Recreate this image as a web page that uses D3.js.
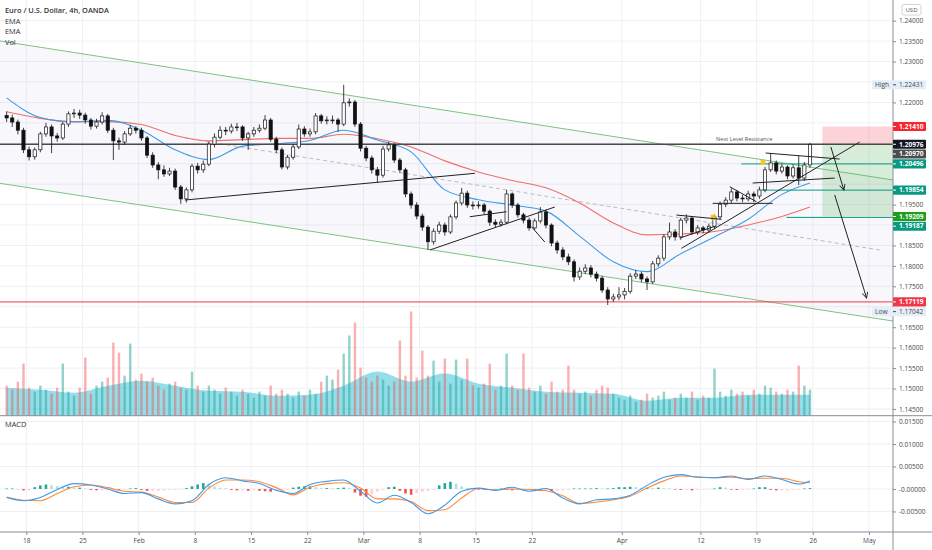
<!DOCTYPE html>
<html>
<head>
<meta charset="utf-8">
<script src="https://cdn.jsdelivr.net/npm/d3@7"></script>
<style>
  body { margin: 0; background: #fff; }
  text { font-family: "Open Sans", sans-serif; }
</style>
</head>
<body>
<div id="chart"></div>
<script>
// EUR/USD 4h (OANDA) - candles shown as 12h bars, day 0 = Mon Jan 18
const firstDay = -2;          // Thu Jan 14
const firstOpen = 1.2168;

const closes = [
  1.2162,1.2152,1.2132,1.2084,1.2067,1.2084,1.2123,1.2140,1.2118,1.2113,
  1.2147,1.2172,1.2174,1.2169,1.2157,1.2142,1.2152,1.2167,1.2132,1.2106,
  1.2103,1.2123,1.2137,1.2132,1.2113,1.2071,1.2047,1.2035,1.2025,1.2032,
  1.1993,1.1964,1.1986,1.2044,1.2035,1.2049,1.2098,1.2115,1.2132,1.2130,
  1.2140,1.2140,1.2113,1.2123,1.2132,1.2137,1.2157,1.2110,1.2084,1.2042,
  1.2066,1.2091,1.2135,1.2123,1.2128,1.2167,1.2155,1.2157,1.2157,1.2147,
  1.2199,1.2201,1.2147,1.2088,1.2064,1.2035,1.2022,1.2086,1.2096,1.2059,
  1.2035,1.1976,1.1949,1.1922,1.1895,1.1859,1.1885,1.1900,1.1883,1.1920,
  1.1954,1.1978,1.1949,1.1947,1.1949,1.1934,1.1907,1.1902,1.1907,1.1976,
  1.1949,1.1925,1.1912,1.1893,1.1910,1.1932,1.1900,1.1856,1.1839,1.1822,
  1.1810,1.1773,1.1787,1.1795,1.1780,1.1770,1.1741,1.1719,1.1724,1.1729,
  1.1738,1.1775,1.1780,1.1768,1.1761,1.1805,1.1819,1.1871,1.1883,1.1871,
  1.1912,1.1917,1.1883,1.1893,1.1888,1.1897,1.1920,1.1951,1.1961,1.1981,
  1.1966,1.1964,1.1976,1.1971,1.1986,1.2035,1.2052,1.2032,1.2042,1.2020,
  1.2040,1.2015,1.2047,1.2097
];
const highs = [
  1.2178,1.2170,1.2158,1.2138,1.2092,1.2090,1.2128,1.2150,1.2146,1.2125,
  1.2152,1.2178,1.2184,1.2182,1.2175,1.2162,1.2160,1.2176,1.2172,1.2138,
  1.2114,1.2130,1.2145,1.2142,1.2138,1.2118,1.2078,1.2054,1.2046,1.2040,
  1.2038,1.1998,1.1992,1.2050,1.2052,1.2058,1.2104,1.2124,1.2142,1.2140,
  1.2148,1.2150,1.2144,1.2128,1.2140,1.2146,1.2169,1.2162,1.2116,1.2090,
  1.2072,1.2098,1.2146,1.2142,1.2136,1.2174,1.2172,1.2166,1.2168,1.2162,
  1.22431,1.2210,1.2206,1.2152,1.2094,1.2070,1.2042,1.2094,1.2104,1.2100,
  1.2064,1.2040,1.1982,1.1956,1.1928,1.1900,1.1892,1.1908,1.1906,1.1926,
  1.1960,1.1991,1.1984,1.1958,1.1958,1.1954,1.1938,1.1914,1.1914,1.1986,
  1.1980,1.1954,1.1930,1.1918,1.1916,1.1944,1.1938,1.1904,1.1862,1.1846,
  1.1830,1.1816,1.1796,1.1804,1.1802,1.1786,1.1776,1.1748,1.1732,1.1748,
  1.1746,1.1782,1.1790,1.1786,1.1774,1.1812,1.1826,1.1878,1.1906,1.1890,
  1.1918,1.1926,1.1922,1.1900,1.1898,1.1904,1.1926,1.1958,1.1968,1.1990,
  1.1986,1.1974,1.1984,1.1982,1.1994,1.2042,1.2076,1.2058,1.2050,1.2046,
  1.2048,1.2071,1.2054,1.2101
];
const lows = [
  1.2152,1.2140,1.2122,1.2076,1.2058,1.2060,1.2078,1.2116,1.2076,1.2104,
  1.2108,1.2140,1.2162,1.2160,1.2148,1.2134,1.2136,1.2146,1.2125,1.2059,
  1.2084,1.2096,1.2118,1.2124,1.2106,1.2064,1.2040,1.2012,1.2018,1.2020,
  1.1986,1.1952,1.1955,1.1980,1.2026,1.2028,1.2044,1.2090,1.2110,1.2120,
  1.2124,1.2130,1.2106,1.2084,1.2116,1.2126,1.2132,1.2104,1.2076,1.2036,
  1.2036,1.2060,1.2086,1.2116,1.2116,1.2122,1.2148,1.2146,1.2148,1.2128,
  1.2142,1.2190,1.2140,1.2080,1.2056,1.2026,1.2003,1.2016,1.2080,1.2052,
  1.2028,1.1968,1.1940,1.1914,1.1886,1.1839,1.1852,1.1878,1.1874,1.1878,
  1.1914,1.1948,1.1942,1.1938,1.1940,1.1926,1.1898,1.1894,1.1896,1.1902,
  1.1942,1.1918,1.1904,1.1886,1.1888,1.1904,1.1892,1.1848,1.1830,1.1814,
  1.1802,1.1762,1.1766,1.1780,1.1772,1.1762,1.1734,1.17042,1.1712,1.1716,
  1.1718,1.1732,1.1768,1.1760,1.1741,1.1756,1.1798,1.1812,1.1864,1.1862,
  1.1864,1.1904,1.1876,1.1876,1.1880,1.1882,1.1890,1.1914,1.1944,1.1954,
  1.1958,1.1956,1.1958,1.1956,1.1964,1.1980,1.2030,1.2024,1.2026,1.2012,
  1.2014,1.1998,1.2008,1.2040
];
const volumes = [
  30,26,34,52,28,24,30,26,22,28,
  52,24,20,28,58,22,30,34,38,73,
  63,40,72,36,42,34,38,30,26,32,
  34,28,26,44,30,24,30,26,22,28,
  24,20,26,22,18,24,20,30,22,26,
  22,18,24,20,26,22,34,40,36,46,
  62,80,93,48,38,34,40,36,30,34,
  75,40,104,38,65,40,55,34,57,32,
  56,36,57,30,28,32,52,26,30,62,
  30,26,62,28,24,30,22,34,24,26,
  50,26,22,24,20,26,30,28,22,18,
  16,20,14,16,22,18,20,24,16,18,
  22,18,24,16,20,18,47,24,20,26,
  22,24,20,26,22,30,28,24,22,26,
  24,50,30,26
];

// indicator lines read at every 6th bar
const sampleBars = [0,6,12,18,24,30,36,42,48,54,60,66,72,78,84,90,96,102,108,114,120,126,132,138,143];
const emaFast = [1.2211,1.2163,1.2152,1.2156,1.2132,1.2084,1.2060,1.2093,1.2099,1.2107,1.2132,1.2108,1.2079,
  1.1986,1.1962,1.1949,1.1934,1.1873,1.1810,1.1786,1.1830,1.1871,1.1914,1.1975,1.2003];
const emaSlow = [1.2177,1.2161,1.2153,1.2153,1.2146,1.2119,1.2106,1.2109,1.2112,1.2112,1.2122,1.2111,1.2091,
  1.2057,1.2030,1.2009,1.1991,1.1954,1.1905,1.1876,1.1878,1.1884,1.1900,1.1921,1.1944];
const volMA = [28,26,23,30,35,30,25,24,20,21,30,44,34,42,32,28,24,23,22,15,18,18,21,21,21];

// MACD read at every 3rd bar
const macdBars = [0,3,6,9,12,15,18,21,24,27,30,33,36,39,42,45,48,51,54,57,60,63,66,69,72,75,78,81,84,87,90,
  93,96,99,102,105,108,111,114,117,120,123,126,129,132,135,138,141,143];
const macdLine = [-0.0019,-0.0026,-0.0019,-0.0001,0.0012,0.0009,0.0000,-0.0010,-0.0008,-0.0022,-0.0033,-0.0026,
  0.0010,0.0025,0.0018,0.0012,-0.0003,-0.0010,0.0010,0.0017,0.0020,-0.0005,-0.0031,-0.0014,-0.0030,-0.0055,
  -0.0036,-0.0005,0.0002,-0.0003,0.0004,-0.0005,0.0001,-0.0020,-0.0033,-0.0024,-0.0022,-0.0014,0.0008,0.0026,
  0.0032,0.0026,0.0025,0.0029,0.0021,0.0029,0.0021,0.0011,0.0018];
const signalLine = [-0.0018,-0.0025,-0.0026,-0.0010,0.0005,0.0009,0.0003,-0.0005,-0.0007,-0.0018,-0.0030,-0.0030,
  0.0002,0.0020,0.0020,0.0016,0.0003,-0.0013,0.0004,0.0012,0.0014,0.0002,-0.0022,-0.0022,-0.0028,-0.0048,
  -0.0046,-0.0020,0.0001,-0.0002,0.0000,-0.0001,-0.0004,-0.0015,-0.0032,-0.0029,-0.0024,-0.0016,0.0002,0.0018,
  0.0029,0.0027,0.0025,0.0026,0.0023,0.0024,0.0024,0.0016,0.0014];
const macdHist = [
  0.0001,0.0001,0.0000,-0.0003,-0.0003,0.0004,0.0008,0.0010,0.0008,0.0006,
  0.0005,0.0005,0.0003,0.0003,0.0001,-0.0002,-0.0003,-0.0003,-0.0002,-0.0001,
  -0.0002,-0.0001,0.0001,0.0002,-0.0002,-0.0004,-0.0004,-0.0004,-0.0003,-0.0002,
  -0.0002,-0.0001,0.0002,0.0006,0.0010,0.0013,0.0011,0.0005,0.0003,0.0002,
  -0.0002,-0.0003,-0.0003,-0.0004,-0.0003,-0.0004,-0.0005,-0.0006,-0.0005,-0.0004,
  -0.0002,0.0003,0.0005,0.0006,0.0006,0.0004,0.0002,0.0002,0.0001,0.0002,
  0.0003,0.0002,-0.0008,-0.0015,-0.0017,-0.0012,-0.0006,-0.0002,0.0004,0.0005,
  -0.0004,-0.0010,-0.0013,-0.0009,-0.0006,-0.0004,-0.0002,0.0008,0.0013,0.0016,
  0.0012,0.0006,0.0002,0.0001,-0.0001,-0.0002,-0.0002,-0.0001,0.0001,-0.0002,
  -0.0003,-0.0003,-0.0002,-0.0001,-0.0003,-0.0004,-0.0004,-0.0005,-0.0004,-0.0003,
  -0.0002,0.0001,0.0001,0.0001,0.0001,0.0002,0.0001,0.0001,0.0002,0.0004,
  0.0004,0.0005,0.0004,0.0003,0.0003,0.0002,0.0003,0.0002,0.0001,-0.0001,
  -0.0002,-0.0002,-0.0003,-0.0002,-0.0001,-0.0001,0.0001,0.0004,0.0003,-0.0001,
  -0.0002,-0.0002,-0.0001,0.0001,0.0004,0.0004,-0.0002,-0.0003,-0.0003,-0.0003,
  -0.0002,-0.0001,0.0001,0.0002
];

// axes
const tickDays = [0,5,10,15,20,25,30,35,40,45,53,60,65,70,75];
const tickLabels = ["18","25","Feb","8","15","22","Mar","8","15","22","Apr","12","19","26","May"];
const priceTicks = [1.145,1.150,1.155,1.160,1.165,1.170,1.175,1.180,1.185,1.190,1.195,1.200,
  1.205,1.210,1.215,1.220,1.225,1.230,1.235,1.240];
const macdTicks = [0.015,0.010,0.005,0,-0.005];
const macdTickLabels = ["0.01500","0.01000","0.00500","-0.00000","-0.00500"];

// drawings, as [day, price]
const channelTop = [[-2.34,1.23503],[77.14,1.20101]];
const channelBottom = [[-2.34,1.20021],[77.14,1.16651]];
const dashedLine = [[14.12,1.21129],[75.95,1.18389]];
const trendLines = [
  [[14.12,1.19612],[39.92,1.20265]],
  [[35.92,1.18389],[47.04,1.19441]],
  [[39.47,1.19203],[42.74,1.19326]],
  [[44.96,1.18959],[46.15,1.18584]],
  [[58.31,1.18430],[74.17,1.21031]],
  [[57.86,1.19245],[61.87,1.19140]],
  [[58.16,1.18682],[61.36,1.18976]],
  [[61.09,1.19531],[66.43,1.19531]],
  [[62.61,1.19938],[64.98,1.19571]],
  [[65.81,1.20762],[72.39,1.20615]],
  [[64.65,1.20028],[71.95,1.20150]]
];
const arrows = [
  [[71.61,1.20909],[72.77,1.19857]],
  [[71.95,1.19735],[74.79,1.17215]]
];
const levelPrices = [1.20976,1.17119,1.20496,1.19854,1.19187];
const levelStartDays = [-2.34,-2.34,63.64,65.43,67.65];
const positionDays = [70.85,77.14];
const positionPrices = [1.21410,1.20976,1.19209];   // stop, entry, target
const highlightPoints = [[61.13,1.1919],[65.57,1.2053]];
const resistanceNote = [63.9,1.20976];

const markerPrices = [1.21410,1.20976,1.20970,1.20496,1.19854,1.19209,1.19187,1.17119];
const markerColors = ["#f7262f","#131722","#4d4d4d","#089981","#089981","#1e9e1e","#089981","#f23645"];
const levelColors = ["#4a4a4a","#f23645","#089981","#089981","#089981"];

// ---------------------------------------------------------------
const W = 932, H = 550;
const axisX = 893, paneBottom = 415.7, macdTop = 416, timeY = 532;

const x = d3.scaleLinear().domain([-2.34, 77.14]).range([0, axisX]);
const y = d3.scaleLinear().domain([1.14335, 1.24506]).range([paneBottom, 0]);
const yVol = d3.scaleLinear().domain([0, 104]).range([paneBottom, 311.5]);
const yMacd = d3.scaleLinear().domain([-0.00956, 0.01622]).range([timeY, macdTop]);
const barDay = k => firstDay + 0.25 + 0.5 * k;
const bx = k => x(barDay(k));

const opens = closes.map((c, i) => i === 0 ? firstOpen : closes[i - 1]);

const svg = d3.select("#chart").append("svg")
  .attr("width", W).attr("height", H)
  .style("display", "block");

const defs = svg.append("defs");
defs.append("clipPath").attr("id", "mainClip")
  .append("rect").attr("x", 0).attr("y", 0).attr("width", axisX).attr("height", paneBottom);
defs.append("clipPath").attr("id", "macdClip")
  .append("rect").attr("x", 0).attr("y", macdTop).attr("width", axisX).attr("height", timeY - macdTop);
defs.append("marker").attr("id", "head")
  .attr("viewBox", "0 0 10 10").attr("refX", 9).attr("refY", 5)
  .attr("markerWidth", 7).attr("markerHeight", 7).attr("orient", "auto")
  .append("path").attr("d", "M1,1 L9,5 L1,9").attr("fill", "none")
  .attr("stroke", "#222").attr("stroke-width", 1.3);

// grid
const grid = svg.append("g").attr("stroke", "#eef0f4").attr("stroke-width", 1);
grid.selectAll(".vg").data(tickDays).join("line")
  .attr("x1", d => x(d)).attr("x2", d => x(d)).attr("y1", 0).attr("y2", timeY);
grid.selectAll(".hg").data(priceTicks).join("line")
  .attr("x1", 0).attr("x2", axisX).attr("y1", d => y(d)).attr("y2", d => y(d));
grid.selectAll(".mg").data(macdTicks).join("line")
  .attr("x1", 0).attr("x2", axisX).attr("y1", d => yMacd(d)).attr("y2", d => yMacd(d));

const main = svg.append("g").attr("clip-path", "url(#mainClip)");

// channel fill + volume
main.append("path")
  .attr("d", `M${x(channelTop[0][0])},${y(channelTop[0][1])} L${x(channelTop[1][0])},${y(channelTop[1][1])}
    L${x(channelBottom[1][0])},${y(channelBottom[1][1])} L${x(channelBottom[0][0])},${y(channelBottom[0][1])}Z`)
  .attr("fill", "rgba(110,115,200,0.05)");

main.append("path")
  .datum(sampleBars.map((k, i) => [k, volMA[i]]))
  .attr("fill", "rgba(60,195,215,0.55)")
  .attr("d", d3.area().curve(d3.curveMonotoneX)
    .x(d => bx(d[0])).y0(paneBottom).y1(d => yVol(d[1])));

main.selectAll(".vol").data(volumes).join("rect")
  .attr("x", (d, i) => bx(i) - 1.2).attr("width", 2.4)
  .attr("y", d => yVol(d)).attr("height", d => paneBottom - yVol(d))
  .attr("fill", (d, i) => closes[i] >= opens[i] ? "rgba(38,166,154,0.5)" : "rgba(239,83,80,0.45)");

// dashed line & channel
const seg = d3.line().x(d => x(d[0])).y(d => y(d[1]));
main.append("path").attr("d", seg(dashedLine)).attr("stroke", "#b8bbc4")
  .attr("stroke-dasharray", "4,3").attr("fill", "none");
[channelTop, channelBottom].forEach(c => main.append("path").attr("d", seg(c))
  .attr("stroke", "#7cc47f").attr("stroke-width", 1).attr("fill", "none"));

// EMAs
const emaPath = d3.line().curve(d3.curveMonotoneX).x(d => bx(d[0])).y(d => y(d[1]));
main.append("path").attr("d", emaPath(sampleBars.map((k, i) => [k, emaSlow[i]])))
  .attr("stroke", "#ef6f6c").attr("stroke-width", 1.1).attr("fill", "none");
main.append("path").attr("d", emaPath(sampleBars.map((k, i) => [k, emaFast[i]])))
  .attr("stroke", "#3d9be9").attr("stroke-width", 1.1).attr("fill", "none");

// position tool
main.append("rect")
  .attr("x", x(positionDays[0])).attr("width", x(positionDays[1]) - x(positionDays[0]))
  .attr("y", y(positionPrices[0])).attr("height", y(positionPrices[1]) - y(positionPrices[0]))
  .attr("fill", "rgba(242,54,69,0.22)");
main.append("rect")
  .attr("x", x(positionDays[0])).attr("width", x(positionDays[1]) - x(positionDays[0]))
  .attr("y", y(positionPrices[1])).attr("height", y(positionPrices[2]) - y(positionPrices[1]))
  .attr("fill", "rgba(76,175,80,0.22)");

// horizontal levels
levelPrices.forEach((p, i) => main.append("line")
  .attr("x1", x(levelStartDays[i])).attr("x2", axisX)
  .attr("y1", y(p)).attr("y2", y(p))
  .attr("stroke", levelColors[i]).attr("stroke-width", i === 0 ? 1.4 : 1));

// candles
const cw = 3.2;
const candles = main.append("g");
candles.selectAll(".wick").data(closes).join("line")
  .attr("x1", (d, i) => bx(i)).attr("x2", (d, i) => bx(i))
  .attr("y1", (d, i) => y(highs[i])).attr("y2", (d, i) => y(lows[i]))
  .attr("stroke", "#111").attr("stroke-width", 0.8);
candles.selectAll(".body").data(closes).join("rect")
  .attr("x", (d, i) => bx(i) - cw / 2).attr("width", cw)
  .attr("y", (d, i) => y(Math.max(d, opens[i])))
  .attr("height", (d, i) => Math.max(0.8, Math.abs(y(d) - y(opens[i]))))
  .attr("fill", (d, i) => d >= opens[i] ? "#fff" : "#111")
  .attr("stroke", "#111").attr("stroke-width", 0.7);

// highlights
main.selectAll(".hl").data(highlightPoints).join("rect")
  .attr("x", d => x(d[0]) - 2.5).attr("y", d => y(d[1]) - 2.5)
  .attr("width", 5).attr("height", 5).attr("fill", "#f5c518").attr("opacity", 0.9);

// trend lines & arrows
trendLines.forEach(t => main.append("path").attr("d", seg(t))
  .attr("stroke", "#222").attr("stroke-width", 1).attr("fill", "none"));
arrows.forEach(a => main.append("path").attr("d", seg(a))
  .attr("stroke", "#222").attr("stroke-width", 1).attr("fill", "none")
  .attr("marker-end", "url(#head)"));

main.append("text").attr("x", x(resistanceNote[0])).attr("y", y(resistanceNote[1]) - 3)
  .attr("text-anchor", "middle").attr("font-size", 5.6).attr("fill", "#555")
  .text("Next Level Resistance");

// MACD pane
const macdG = svg.append("g").attr("clip-path", "url(#macdClip)");
macdG.selectAll(".hist").data(macdHist).join("rect")
  .attr("x", (d, i) => bx(i) - 1.3).attr("width", 2.6)
  .attr("y", d => yMacd(Math.max(0, d)))
  .attr("height", d => Math.max(0.6, Math.abs(yMacd(d) - yMacd(0))))
  .attr("fill", (d, i) => {
    const prev = i > 0 ? macdHist[i - 1] : d;
    if (d >= 0) return d >= prev ? "#26a69a" : "#b2dfdb";
    return d < prev ? "#ef5350" : "#ffcdd2";
  });
const macdPath = d3.line().curve(d3.curveMonotoneX).x(d => bx(d[0])).y(d => yMacd(d[1]));
macdG.append("path").attr("d", macdPath(macdBars.map((k, i) => [k, signalLine[i]])))
  .attr("stroke", "#ff8a3d").attr("stroke-width", 1.1).attr("fill", "none");
macdG.append("path").attr("d", macdPath(macdBars.map((k, i) => [k, macdLine[i]])))
  .attr("stroke", "#3d9be9").attr("stroke-width", 1.1).attr("fill", "none");

// frame lines
svg.append("line").attr("x1", 0).attr("x2", W).attr("y1", paneBottom).attr("y2", paneBottom)
  .attr("stroke", "#8a8d96").attr("stroke-width", 1);
svg.append("line").attr("x1", 0).attr("x2", W).attr("y1", timeY).attr("y2", timeY)
  .attr("stroke", "#8a8d96").attr("stroke-width", 1);
svg.append("line").attr("x1", axisX).attr("x2", axisX).attr("y1", 0).attr("y2", H)
  .attr("stroke", "#8a8d96").attr("stroke-width", 1);

// price labels on the axis, pushed apart where they collide
const labelH = 9.7;
const hiVal = d3.max(highs), loVal = d3.min(lows);
const labels = markerPrices.map((p, i) => ({ p, bg: markerColors[i], fg: "#fff", tag: null }))
  .concat([{ p: hiVal, bg: "#e3eef9", fg: "#4a4a4a", tag: "High" },
           { p: loVal, bg: "#e3eef9", fg: "#4a4a4a", tag: "Low" }]);
labels.forEach(l => l.y = y(l.p));
labels.sort((a, b) => a.y - b.y || b.p - a.p);
labels.forEach((l, i) => {
  if (i > 0 && l.y < labels[i - 1].y + labelH) l.y = labels[i - 1].y + labelH;
});
const hiddenTick = v => labels.some(l => Math.abs(l.y - y(v)) < labelH);

// axes
const axisFont = 6.6, axisColor = "#4a4a4a";
function styleAxis(g) {
  g.select(".domain").remove();
  g.selectAll(".tick line").attr("stroke", "#8a8d96");
  g.selectAll(".tick text").attr("font-size", axisFont).attr("fill", axisColor)
    .attr("font-family", "'Open Sans', sans-serif");
}
svg.append("g").attr("transform", `translate(${axisX},0)`)
  .call(d3.axisRight(y).tickValues(priceTicks.filter(v => !hiddenTick(v)))
    .tickSize(3).tickPadding(3).tickFormat(d => d.toFixed(5)))
  .call(styleAxis);
svg.append("g").attr("transform", `translate(${axisX},0)`)
  .call(d3.axisRight(yMacd).tickValues(macdTicks).tickSize(3).tickPadding(3)
    .tickFormat((d, i) => macdTickLabels[i]))
  .call(styleAxis);
svg.append("g").attr("transform", `translate(0,${timeY})`)
  .call(d3.axisBottom(x).tickValues(tickDays).tickSize(3).tickPadding(3)
    .tickFormat((d, i) => tickLabels[i]))
  .call(styleAxis);

const lab = svg.append("g");
labels.forEach(l => {
  const x0 = l.tag ? 872 : axisX;
  lab.append("rect").attr("x", x0).attr("y", l.y - labelH / 2 + 0.3)
    .attr("width", 926 - x0).attr("height", labelH - 0.6).attr("rx", 1).attr("fill", l.bg);
  lab.append("line").attr("x1", axisX).attr("x2", axisX + 3).attr("y1", l.y).attr("y2", l.y)
    .attr("stroke", l.fg);
  lab.append("text").attr("x", axisX + 6).attr("y", l.y + 2.3)
    .attr("font-size", axisFont).attr("font-weight", l.tag ? 400 : 700).attr("fill", l.fg)
    .text(l.p.toFixed(5));
  if (l.tag) lab.append("text").attr("x", 875).attr("y", l.y + 2.3)
    .attr("font-size", axisFont).attr("fill", l.fg).text(l.tag);
});

// currency badge
svg.append("rect").attr("x", 902).attr("y", 4.5).attr("width", 19).attr("height", 10.5)
  .attr("rx", 2).attr("fill", "#fff").attr("stroke", "#d1d4dc");
svg.append("text").attr("x", 911.5).attr("y", 12).attr("text-anchor", "middle")
  .attr("font-size", 6).attr("fill", "#555").text("USD");

// legends
const legend = ["Euro / U.S. Dollar, 4h, OANDA", "EMA", "EMA", "Vol"];
svg.selectAll(".leg").data(legend).join("text")
  .attr("x", 5).attr("y", (d, i) => 13 + i * 10.7)
  .attr("font-size", 7.4).attr("font-weight", (d, i) => i === 0 ? 600 : 400)
  .attr("fill", "#333").text(d => d);
svg.append("text").attr("x", 5).attr("y", 427).attr("font-size", 7.4).attr("fill", "#333").text("MACD");
</script>
</body>
</html>
